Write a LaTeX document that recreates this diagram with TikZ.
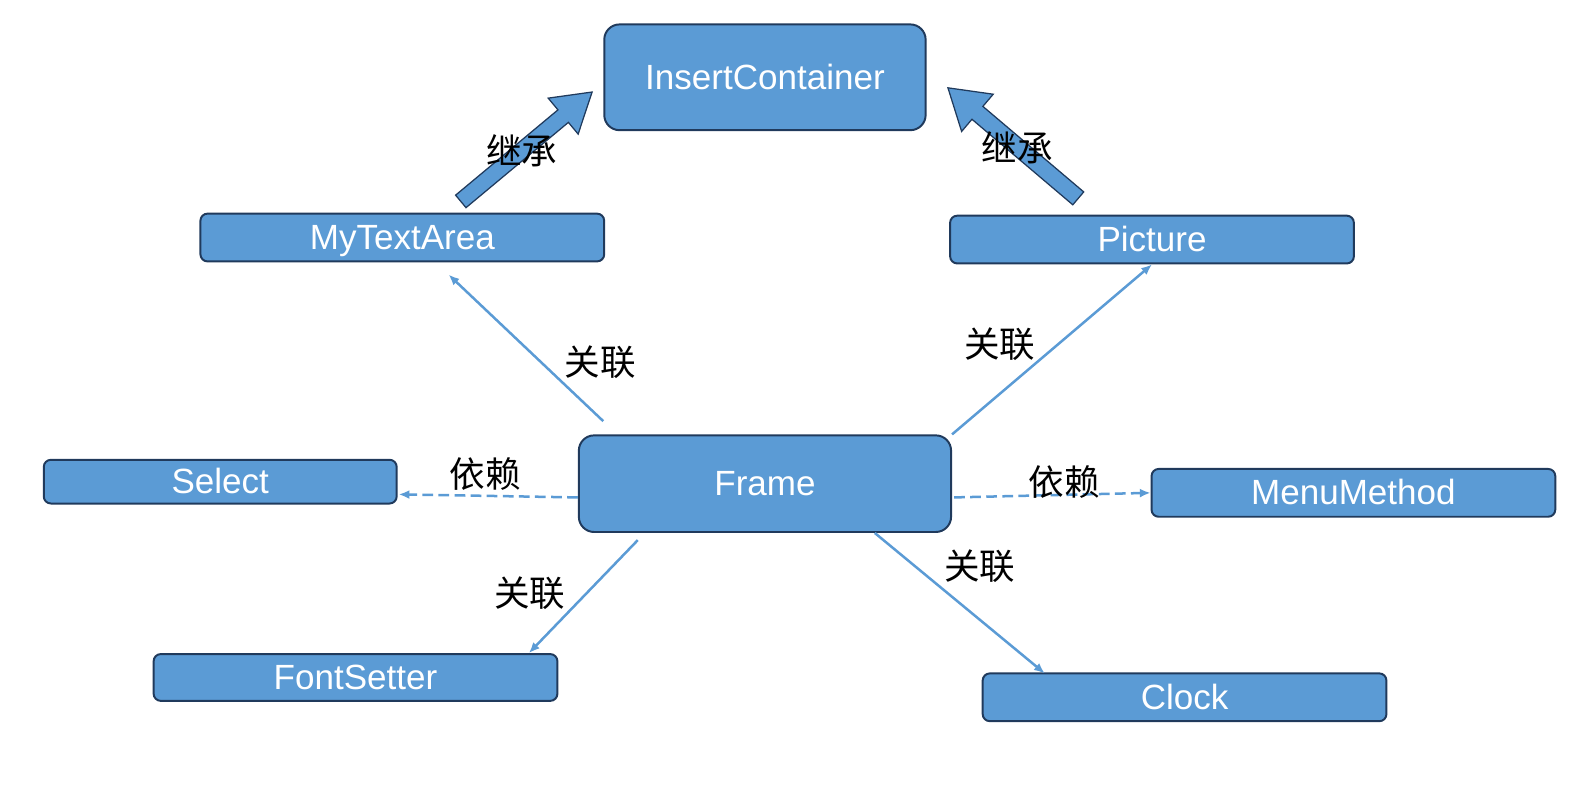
\documentclass[tikz,border=0pt]{standalone}
\usepackage{fontspec}
\setmainfont{Liberation Sans}
\newfontfamily\cjk{Noto Sans CJK SC}
\usetikzlibrary{calc,arrows.meta}
\definecolor{boxfill}{HTML}{5B9BD5}
\definecolor{boxline}{HTML}{203A5C}
\tikzset{
	cls/.style={draw=boxline, fill=boxfill, line width=1.1pt, rounded corners=0.14cm, text=white, inner sep=0pt, text height=17.7pt, text depth=4.2pt, minimum width=7.94cm, minimum height=0.94cm, font=\fontsize{19.6pt}{23pt}\selectfont},
	big/.style={cls, rounded corners=0.3cm},
	link/.style={draw=boxfill, line width=1.4pt, -{Latex[length=6pt,width=5pt]}},
	dep/.style={link, dash pattern=on 6pt off 3pt},
	tag/.style={inner sep=0pt, font=\cjk\fontsize{19.9pt}{23pt}\selectfont},
	inherit/.style={draw=boxline, fill=boxfill, line width=0.7pt}
}
\begin{document}
\begin{tikzpicture}[x=0.02cm, y=-0.02cm]
	\useasboundingbox (0,0) rectangle (1568,797);

	% classes
	\node[big, minimum width=6.32cm, minimum height=2.08cm] (insert) at (752,76) {InsertContainer};
	\node[cls] (mytext) at (395.5,233.5) {MyTextArea};
	\node[cls] (picture) at (1132.5,235.5) {Picture};
	\node[big, minimum width=7.32cm, minimum height=1.9cm] (frame) at (752,475.5) {Frame};
	\node[cls, minimum width=6.94cm, minimum height=0.86cm] (select) at (216.5,473.5) {Select};
	\node[cls] (menu) at (1330.5,484.5) {MenuMethod};
	\node[cls, minimum height=0.92cm] (font) at (349.5,666) {FontSetter};
	\node[cls] (clock) at (1164.5,685.5) {Clock};

	% inheritance
	\begin{scope}[shift={(453,198)}, rotate=39.8]
		\draw[inherit] (0,-8) -- (131,-8) -- (131,-23) -- (168,0) -- (131,23) -- (131,8) -- (0,8) -- cycle;
	\end{scope}
	\begin{scope}[shift={(1060,195)}, rotate=139.7]
		\draw[inherit] (0,8.3) -- (130,8.3) -- (130,24) -- (168,0) -- (130,-24) -- (130,-8.3) -- (0,-8.3) -- cycle;
	\end{scope}
	\node[tag] (inhl) at (513,148) {继承};
	\node[tag] (inhr) at (1000,145) {继承};

	% associations
	\draw[link] ($(frame.north west)+(25,-13)$) -- ($(mytext.south)+(45.5,12)$);
	\draw[link] (frame.north east) -- (picture.south);
	\draw[link] ($(frame.south)+(-125,7)$) -- ($(font.north east)+(-29,0)$);
	\draw[link] ($(frame.south)+(108,0)$) -- ($(clock.north west)+(62,1)$);
	\node[tag] (asmy) at (590,356) {关联};
	\node[tag] (aspic) at (983,338) {关联};
	\node[tag] (asfont) at (521,583) {关联};
	\node[tag] (asclock) at (963,557) {关联};

	% dependencies
	\draw[dep] ($(frame.west)+(0,13.5)$) -- ($(select.east)+(1,12.5)$);
	\draw[dep] ($(frame.east)+(2,13.5)$) -- (menu.west);
	\node[tag] (depsel) at (477,466) {依赖};
	\node[tag] (depmenu) at (1046,474) {依赖};
\end{tikzpicture}
\end{document}
